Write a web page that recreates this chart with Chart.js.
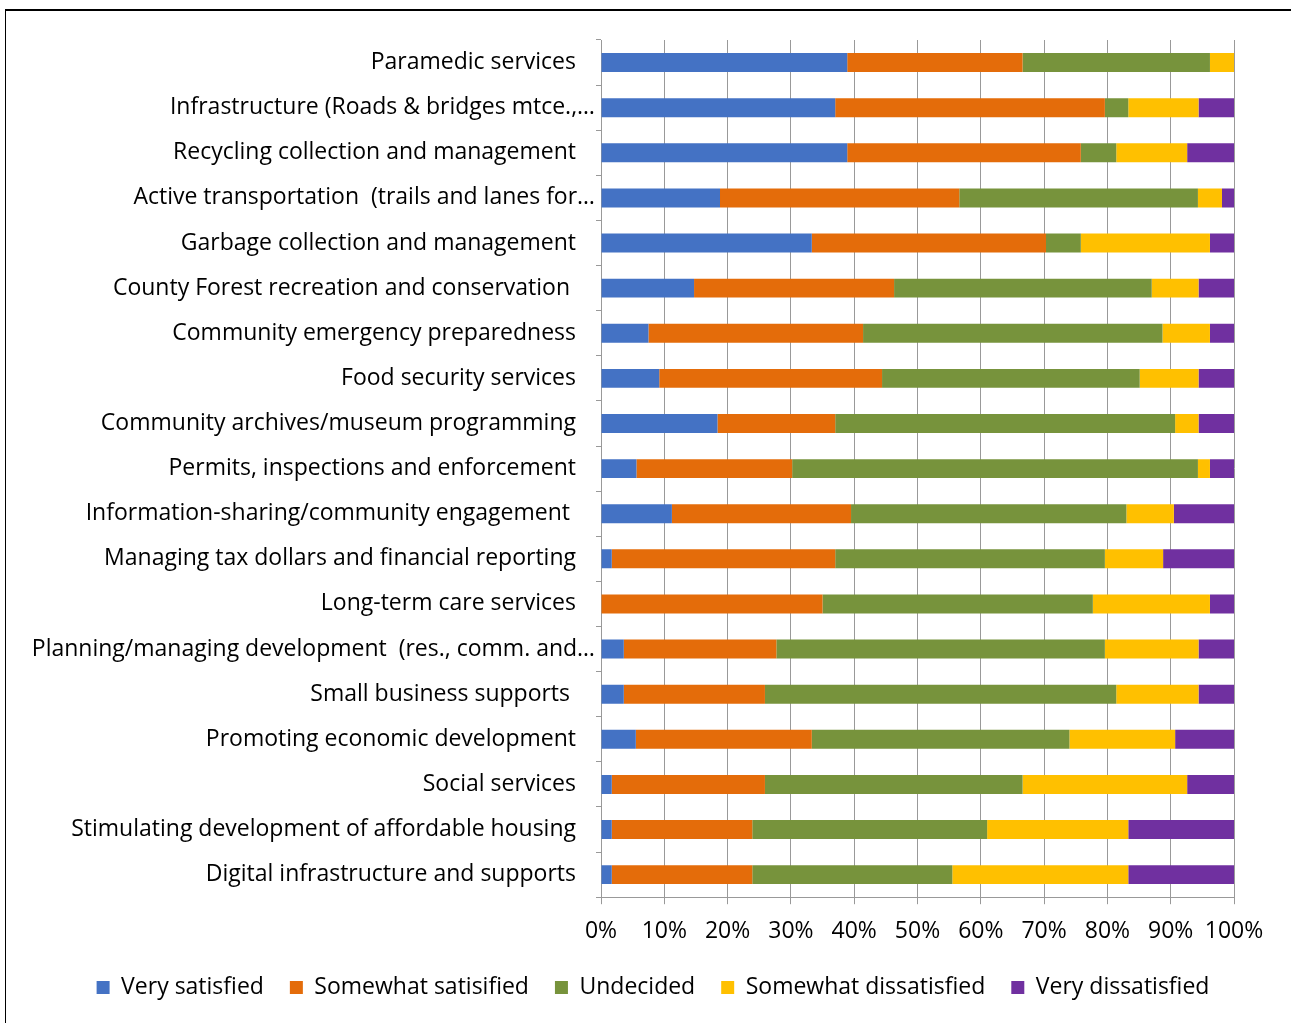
<!DOCTYPE html>
<html>
<head>
<meta charset="utf-8">
<script src="https://cdn.jsdelivr.net/npm/chart.js@4.4.1/dist/chart.umd.min.js"></script>
<style>
html,body{margin:0;padding:0;background:#fff;overflow:hidden;width:1291px;height:1023px}
#frame{position:absolute;left:5px;top:9px;width:1320px;height:1040px;border-left:1px solid #000;border-top:2px solid #000;box-sizing:border-box}
#wrap{position:absolute;left:0;top:0;width:1291px;height:1009px}
</style>
</head>
<body>
<div id="frame"></div>
<div id="wrap"><canvas id="c"></canvas></div>
<script>
const categories = [
  "Paramedic services",
  "Infrastructure (Roads & bridges mtce.,…",
  "Recycling collection and management",
  "Active transportation  (trails and lanes for…",
  "Garbage collection and management",
  "County Forest recreation and conservation ",
  "Community emergency preparedness",
  "Food security services",
  "Community archives/museum programming",
  "Permits, inspections and enforcement",
  "Information-sharing/community engagement ",
  "Managing tax dollars and financial reporting",
  "Long-term care services",
  "Planning/managing development  (res., comm. and…",
  "Small business supports ",
  "Promoting economic development",
  "Social services",
  "Stimulating development of affordable housing",
  "Digital infrastructure and supports"
];
const seriesNames = ["Very satisfied","Somewhat satisified","Undecided","Somewhat dissatisfied","Very dissatisfied"];
const seriesColors = ["#4472C4","#E46C0A","#77933C","#FFC000","#7030A0"];
const verySatisfied        = [38.9,37.0,38.9,18.8,33.3,14.7, 7.5, 9.2,18.4, 5.6,11.2, 1.7, 0.0, 3.6, 3.6, 5.5, 1.7, 1.7, 1.7];
const somewhatSatisfied    = [27.7,42.6,36.9,37.8,37.0,31.6,33.9,35.2,18.6,24.6,28.3,35.3,35.0,24.1,22.3,27.8,24.2,22.2,22.2];
const undecided            = [29.6, 3.7, 5.6,37.7, 5.5,40.7,47.3,40.7,53.7,64.1,43.5,42.6,42.7,51.9,55.5,40.7,40.7,37.1,31.6];
const somewhatDissatisfied = [ 3.8,11.1,11.2, 3.8,20.4, 7.4, 7.5, 9.3, 3.7, 1.9, 7.5, 9.2,18.5,14.8,13.0,16.7,26.0,22.3,27.8];
const veryDissatisfied     = [ 0.0, 5.6, 7.4, 1.9, 3.8, 5.6, 3.8, 5.6, 5.6, 3.8, 9.5,11.2, 3.8, 5.6, 5.6, 9.3, 7.4,16.7,16.7];
const xTicks = [0,10,20,30,40,50,60,70,80,90,100];

const seriesValues = [verySatisfied, somewhatSatisfied, undecided, somewhatDissatisfied, veryDissatisfied];
const FONT = "'Open Sans'";
const FS = 23;
const LEGEND_SHIFT = 36;

const labelPlugin = {
  id: 'catLabels',
  afterLayout(chart) {
    if (chart.legend) {
      chart.legend.left += LEGEND_SHIFT;
      chart.legend.right += LEGEND_SHIFT;
    }
  },
  afterDraw(chart) {
    const ctx = chart.ctx;
    const ys = chart.scales.y;
    const left = chart.chartArea.left;
    ctx.save();
    ctx.font = FS + "px " + FONT;
    ctx.fillStyle = "#000";
    ctx.textAlign = "right";
    ctx.textBaseline = "middle";
    categories.forEach((c, i) => {
      const y = ys.getPixelForValue(i);
      const x = c.endsWith("…") ? left - 6 : left - 25;
      ctx.fillText(c, x, y);
    });
    ctx.restore();
  }
};

new Chart(document.getElementById('c'), {
  type: 'bar',
  data: {
    labels: categories,
    datasets: seriesNames.map((n, k) => ({
      label: n,
      data: seriesValues[k],
      backgroundColor: seriesColors[k],
      borderWidth: 0,
      categoryPercentage: 1,
      barPercentage: 0.42
    }))
  },
  options: {
    indexAxis: 'y',
    responsive: true,
    maintainAspectRatio: false,
    devicePixelRatio: 1,
    animation: false,
    layout: { padding: { left: 0, right: 57, top: 40, bottom: 0 } },
    plugins: {
      tooltip: { enabled: false },
      legend: {
        position: 'bottom',
        labels: {
          font: { family: FONT, size: FS },
          color: '#000',
          boxWidth: 13,
          boxHeight: 13,
          padding: 26
        }
      }
    },
    scales: {
      x: {
        stacked: true,
        min: 0, max: 100,
        afterBuildTicks: (s) => { s.ticks = xTicks.map(v => ({ value: v })); },
        afterFit: (s) => { s.height = 52.8; },
        ticks: {
          callback: (v) => v + '%',
          font: { family: FONT, size: FS },
          color: '#000',
          padding: 13,
          maxRotation: 0
        },
        grid: { color: '#999999', lineWidth: 1, tickLength: 7, drawTicks: true },
        border: { color: '#999999', width: 1 }
      },
      y: {
        stacked: true,
        afterFit: (s) => { s.width = 601; },
        ticks: { display: false },
        grid: { drawOnChartArea: false, drawTicks: true, tickLength: 5, offset: true, color: '#999999' },
        border: { color: '#999999', width: 1 }
      }
    }
  },
  plugins: [labelPlugin]
});
</script>
</body>
</html>
